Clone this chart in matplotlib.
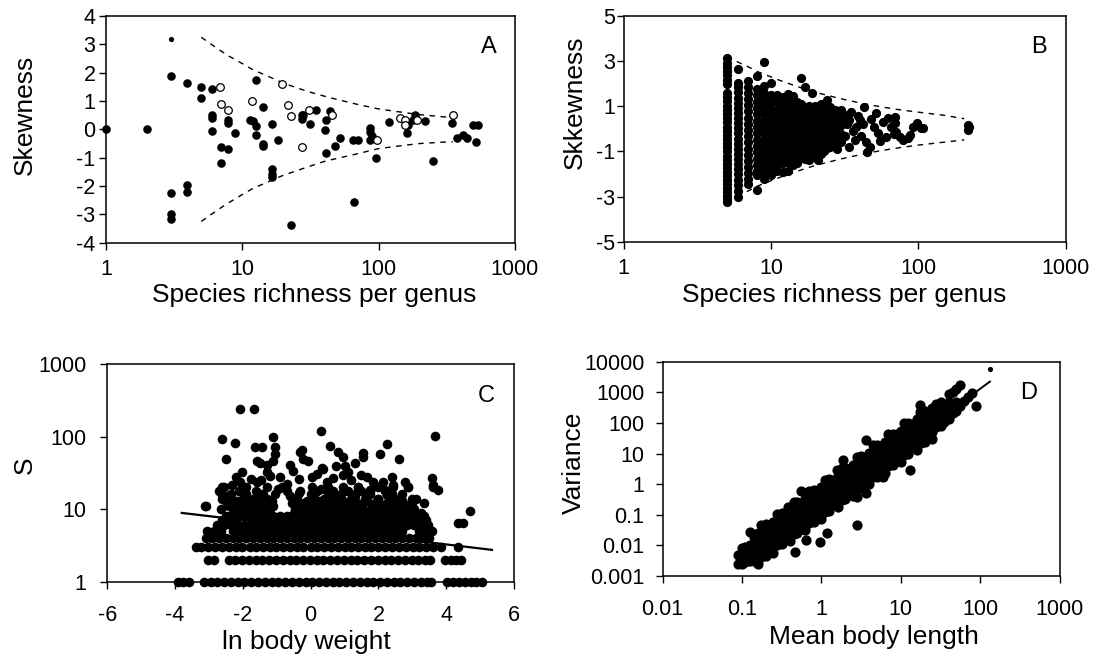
import matplotlib
matplotlib.use('Agg')
import matplotlib.pyplot as plt
from matplotlib.ticker import NullLocator

plt.rcParams['font.family'] = ['Liberation Sans', 'DejaVu Sans']
plt.rcParams['axes.unicode_minus'] = False

# ---- panel A: skewness vs species richness (filled / open / small)
a_fill_x = [1, 2, 3, 3, 3, 3, 3.95, 3.95, 3.95, 5, 5, 5.97, 6, 6, 6, 7, 7,
            7.8, 7.8, 7.8, 8.8, 11.3, 12, 12.6, 12.6, 12.6, 14.1, 14.1, 14.1,
            16.4, 16.4, 16.4, 16.4, 18.4, 22.7, 27.3, 27.3, 28, 31.3, 34.7,
            40.4, 41, 41, 44, 48, 52, 65, 66, 70, 86.5, 86.5, 86.5, 90, 96,
            120, 161, 163, 180, 185, 219, 250, 344, 374, 418, 443, 495, 518, 537]
a_fill_y = [0, 0, 1.87, -2.24, -2.99, -3.17, 1.64, -1.95, -2.22, 1.5, 1.1, 1.42,
            0.51, 0.39, -0.05, -0.62, -1.19, 0.33, 0.21, -0.71, -0.14, 0.33, 0.3,
            1.75, 0.12, -0.2, 0.8, -0.5, -0.6, 0.18, -1.39, -1.57, -1.69, -0.38,
            -3.38, 0.49, 0.38, 0.51, 0.19, 0.69, -0.02, 0.33, -0.85, 0.63, -0.59,
            -0.32, -0.36, -2.55, -0.36, 0.04, -0.08, -0.38, -0.24, -1.01, 0.27,
            -0.14, 0.15, 0.33, 0.51, 0.31, -1.12, 0.24, -0.32, -0.2, -0.32, 0.15,
            -0.44, 0.15]
a_open_x = [6.9, 7, 7.8, 11.8, 19.6, 21.6, 22.7, 27.3, 31, 45.3, 98, 144, 156,
            156, 190, 350]
a_open_y = [1.5, 0.9, 0.69, 1.0, 1.61, 0.86, 0.48, -0.62, 0.69, 0.51, -0.36,
            0.39, 0.33, 0.15, 0.33, 0.51]
a_small_x = [3]
a_small_y = [3.2]
a_env_n = [5, 6, 7, 8, 10, 12, 15, 20, 25, 30, 40, 50, 70, 100, 150, 200, 300, 350]
a_env_hi = [3.25, 2.98, 2.76, 2.58, 2.32, 2.1, 1.9, 1.63, 1.47, 1.34, 1.17, 1.05,
            0.88, 0.72, 0.6, 0.52, 0.44, 0.42]
a_env_lo = [-3.25, -2.98, -2.76, -2.58, -2.3, -2.08, -1.88, -1.62, -1.46, -1.33,
            -1.13, -1.02, -0.86, -0.68, -0.57, -0.5, -0.45, -0.44]

# ---- panel B: skewness per genus, columns by species richness
b_s5 = [3.15, 2.92, 2.72, 2.55, 2.38, 2.18, 1.98, 1.6, 1.42, 1.22, 1.03, 0.85,
        0.66, 0.47, 0.3, 0.1, -0.08, -0.27, -0.45, -0.63, -0.82, -1.0, -1.2,
        -1.38, -1.56, -1.75, -1.9, -2.1, -2.25, -2.45, -2.62, -2.8, -2.98,
        -3.12, -3.25]
b_s6 = [2.65, 2.05, 1.85, 1.62, 1.38, 1.15, 0.92, 0.7, 0.48, 0.25, 0.02, -0.2,
        -0.43, -0.65, -0.88, -1.1, -1.33, -1.55, -1.78, -2.0, -2.25, -2.5,
        -2.75, -3.0]
b_s7 = [2.1, 1.85, 1.6, 1.33, 1.05, 0.78, 0.5, 0.22, -0.05, -0.32, -0.6, -0.88,
        -1.15, -1.42, -1.7, -1.95, -2.2, -2.45]
b_s8 = [2.35, 1.75, 1.48, 1.2, 0.92, 0.64, 0.36, 0.08, -0.2, -0.48, -0.76,
        -1.04, -1.32, -1.6, -1.88, -2.05, -2.7]
b_s9 = [2.95, 1.9, 1.6, 1.3, 1.0, 0.7, 0.4, 0.1, -0.2, -0.5, -0.8, -1.1, -1.4,
        -1.7, -2.0, -2.2]
b_s10 = [2.05, 1.5, 1.2, 0.9, 0.6, 0.3, 0.0, -0.3, -0.6, -0.9, -1.2, -1.5,
         -1.8, -2.05]
b_s11 = [1.5, 1.2, 0.85, 0.55, 0.25, -0.1, -0.4, -0.7, -1.0, -1.3, -1.6, -1.85]
b_s12 = [1.4, 1.05, 0.75, 0.45, 0.1, -0.2, -0.55, -0.85, -1.15, -1.5, -1.9]
b_s13 = [1.55, 1.2, 0.85, 0.5, 0.2, -0.15, -0.45, -0.8, -1.1, -1.45, -1.85]
b_s14 = [1.45, 1.05, 0.7, 0.35, 0.0, -0.35, -0.7, -1.05, -1.35, -1.6]
b_s15 = [1.2, 0.85, 0.5, 0.15, -0.2, -0.55, -0.9, -1.2, -1.5]
b_s16 = [2.25, 1.1, 0.75, 0.4, 0.05, -0.3, -0.65, -1.0, -1.3]
b_s17 = [1.85, 0.95, 0.6, 0.25, -0.1, -0.45, -0.8, -1.1, -1.35]
b_s18 = [1.0, 0.65, 0.3, -0.05, -0.4, -0.75, -1.1, -1.4]
b_s19 = [1.6, 0.85, 0.5, 0.15, -0.2, -0.55, -0.9, -1.2]
b_s20 = [1.0, 0.6, 0.25, -0.1, -0.45, -0.8, -1.1, -1.25]
b_s21 = [0.9, 0.5, 0.15, -0.2, -0.55, -0.9, -1.4]
b_s22 = [1.1, 0.7, 0.3, -0.05, -0.4, -0.75, -1.1]
b_s23 = [0.85, 0.45, 0.1, -0.3, -0.65, -1.0]
b_s24 = [1.28, 0.9, 0.55, 0.2, -0.15, -0.5, -0.85]
b_s25 = [0.95, 0.6, 0.25, -0.1, -0.45, -0.79]
b_s26 = [0.7, 0.35, 0.0, -0.35, -0.7]
b_s27 = [0.85, 0.5, 0.15, -0.2, -0.55]
b_s28 = [0.65, 0.3, -0.05, -0.42, -0.9]
b_s29 = [0.8, 0.45, 0.1, -0.42]
b_s30 = [0.84, 0.5, 0.15, -0.25, -0.6]
b_cols = [5, 6, 7, 8, 9, 10, 11, 12, 13, 14, 15, 16, 17, 18, 19, 20, 21, 22,
          23, 24, 25, 26, 27, 28, 29, 30]
b_col_vals = [b_s5, b_s6, b_s7, b_s8, b_s9, b_s10, b_s11, b_s12, b_s13, b_s14,
              b_s15, b_s16, b_s17, b_s18, b_s19, b_s20, b_s21, b_s22, b_s23,
              b_s24, b_s25, b_s26, b_s27, b_s28, b_s29, b_s30]
b_big_x = [32, 32, 33, 34, 34, 35, 36, 37, 38, 39, 40, 41, 42, 43, 44, 45, 47,
           48, 50, 52, 53, 55, 58, 60, 62, 65, 68, 70, 70, 71, 75, 79, 85, 88,
           92, 98, 105, 108, 218, 218, 220]
b_big_y = [0.6, -0.3, 0.2, 0.39, -0.79, 0.75, -0.1, -0.5, 0.1, 0.55, 0.39, -0.3,
           0.2, 0.98, -0.6, -1.01, -0.79, 0.45, 0.1, 0.69, -0.2, -0.55, 0.32,
           -0.35, 0.5, 0.1, -0.25, 0.54, 0.25, -0.13, -0.35, -0.49, -0.4, -0.27,
           0.1, 0.25, 0.05, 0.02, 0.17, -0.05, 0.08]
b_env_n = [5, 6, 7, 8, 10, 12, 15, 20, 25, 30, 40, 50, 70, 100, 150, 205]
b_env_hi = [3.2, 2.95, 2.75, 2.55, 2.3, 2.1, 1.88, 1.62, 1.46, 1.33, 1.15, 1.03,
            0.87, 0.74, 0.6, 0.45]
b_env_lo = [-3.2, -2.95, -2.75, -2.55, -2.3, -2.1, -1.88, -1.62, -1.46, -1.33,
            -1.15, -1.02, -0.86, -0.72, -0.59, -0.49]

# ---- panel C: species richness S vs ln body weight, rows by S
c_s1 = [-3.9, -3.75, -3.6, -3.15, -2.95, -2.75, -2.55, -2.35, -2.15, -1.95,
        -1.75, -1.55, -1.35, -1.15, -0.95, -0.75, -0.55, -0.35, -0.15, 0.05,
        0.25, 0.45, 0.65, 0.85, 1.05, 1.25, 1.45, 1.65, 1.85, 2.05, 2.25, 2.45,
        2.65, 2.85, 3.05, 3.25, 3.42, 3.56, 4.03, 4.2, 4.38, 4.55, 4.72, 4.88,
        5.05]
c_s2 = [-3.03, -2.86, -2.41, -2.22, -2.02, -1.82, -1.62, -1.42, -1.22, -1.02,
        -0.82, -0.62, -0.42, -0.22, -0.02, 0.18, 0.38, 0.58, 0.78, 0.98, 1.18,
        1.38, 1.58, 1.78, 1.98, 2.18, 2.38, 2.58, 2.78, 2.98, 3.18, 3.36, 3.51,
        3.96, 4.13, 4.3, 4.45]
c_s3 = [-3.39, -3.22, -3.02, -2.83, -2.61, -2.42, -2.2, -2.01, -1.8, -1.62,
        -1.41, -1.2, -1.02, -0.8, -0.61, -0.4, -0.21, 0.0, 0.19, 0.4, 0.6, 0.81,
        1.0, 1.2, 1.41, 1.6, 1.79, 2.0, 2.2, 2.41, 2.6, 2.8, 3.01, 3.2, 3.4, 3.6,
        3.85, 4.35]
c_s4 = [-3.1, -2.9, -2.7, -2.5, -2.3, -2.1, -1.9, -1.7, -1.5, -1.3, -1.1, -0.9,
        -0.7, -0.5, -0.3, -0.1, 0.1, 0.3, 0.5, 0.7, 0.9, 1.1, 1.3, 1.5, 1.7, 1.9,
        2.1, 2.3, 2.5, 2.7, 2.9, 3.1, 3.3, 3.5]
c_s5 = [-3.05, -2.85, -2.65, -2.3, -2.1, -1.9, -1.7, -1.5, -1.3, -1.1, -0.9,
        -0.7, -0.5, -0.3, -0.1, 0.1, 0.3, 0.5, 0.7, 0.9, 1.1, 1.3, 1.5, 1.7, 1.9,
        2.1, 2.3, 2.5, 2.7, 3.2, 3.4, 3.57]
c_s6 = [-2.75, -2.55, -2.35, -2.15, -1.95, -1.75, -1.55, -1.35, -1.15, -0.95,
        -0.75, -0.55, -0.35, -0.15, 0.05, 0.25, 0.45, 0.65, 0.85, 1.05, 1.25,
        1.45, 1.65, 1.85, 2.05, 2.25, 2.45, 2.65, 2.85, 3.05, 3.25, 3.45]
c_s7 = [-2.62, -2.4, -2.2, -1.62, -1.42, -1.22, -1.02, -0.82, -0.62, -0.42,
        -0.22, -0.02, 0.18, 0.38, 0.58, 0.78, 0.98, 1.18, 1.38, 1.58, 1.78, 1.98,
        2.18, 2.38, 2.58, 2.78, 2.98, 3.18, 3.4]
c_s8 = [-2.5, -2.3, -2.1, -1.9, -1.7, -1.5, -1.3, -1.1, -0.9, -0.7, -0.3, -0.1,
        0.1, 0.3, 0.5, 0.7, 0.9, 1.1, 1.3, 1.5, 1.7, 1.9, 2.1, 2.3, 2.5, 2.7, 2.9,
        3.1, 3.35]
c_s9 = [-2.3, -2.1, -1.85, -1.6, -1.35, -0.5, -0.25, 0.0, 0.25, 0.5, 0.75, 1.0,
        1.25, 1.5, 1.75, 2.0, 2.25, 2.5, 2.75, 3.0, 3.25]
c_s10 = [-2.65, -2.2, -1.95, -1.7, -1.45, -1.2, -0.45, -0.2, 0.05, 0.3, 0.55,
         0.8, 1.05, 1.3, 1.55, 1.8, 2.05, 2.3, 2.55, 2.8, 3.05]
c_s11 = [-3.1, -2.4, -2.1, -1.8, -1.5, -1.1, -0.3, 0.0, 0.3, 0.6, 0.9, 1.2, 1.5,
         1.8, 2.1, 2.4, 2.7, 3.0]
c_s12 = [-2.3, -1.95, -1.6, -1.3, -0.55, -0.2, 0.15, 0.5, 0.85, 1.2, 1.55, 1.9,
         2.25, 2.6, 2.95]
c_s13 = [-2.5, -2.15, -1.8, -1.45, -0.1, 0.25, 0.6, 0.95, 1.3, 1.65, 2.0, 2.35,
         2.7]
c_s14 = [-2.6, -2.0, -1.65, -1.3, -0.4, 0.0, 0.4, 0.8, 1.2, 1.6, 2.0, 2.5, 3.0]
c_s16 = [-2.35, -1.9, -1.45, -1.05, 0.1, 0.5, 0.9, 1.3, 1.75, 2.25, 2.7]
c_s18 = [-2.7, -2.1, -1.6, -0.7, -0.3, 0.2, 0.65, 1.1, 1.5, 1.75, 2.2]
c_s20 = [-2.55, -1.9, -1.3, -0.85, 0.05, 0.5, 0.95, 1.4, 2.0, 2.44, 2.88, 3.6]
c_rows = [1, 2, 3, 4, 5, 6, 7, 8, 9, 10, 11, 12, 13, 14, 16, 18, 20]
c_row_vals = [c_s1, c_s2, c_s3, c_s4, c_s5, c_s6, c_s7, c_s8, c_s9, c_s10,
              c_s11, c_s12, c_s13, c_s14, c_s16, c_s18, c_s20]
c_hi_x = [-2.08, -1.66, 0.3, 3.67, -1.1, -2.6, -2.23, 2.25, -1.64, -1.44, -1.05,
          0.57, -0.25, -0.31, 0.82, 1.55, 2.05, -1.05, -2.5, 2.6, 0.97, 1.55,
          -0.21, -0.07, -1.59, -1.1, -1.49, -1.29, 0.33, 0.38, 1.0, 1.1, -2.03,
          -0.51, 0.18, 1.5, -1.2, -0.9, 2.39, 3.57, 0.67, 1.85, -2.08, -1.57,
          -1.45, 0.48, 2.78, 1.2, -2.33, 2.44, 3.62, -2.62, 2.88, 1.4, 1.75, 3.77,
          2.2, -2.62, 2.25, -3.11, 4.7, 4.36, 4.5,
          -2.45, -2.2, -1.95, -1.7, -1.4, -1.15, -0.95, -0.6, -0.35, 0.0, 0.3,
          0.7, 1.0, 1.3, 1.65, 2.0, 2.4, 2.7, 3.1, 3.35, -2.2, -1.75, -0.7,
          -0.35, 0.05, 0.95, 1.65, 2.15, -1.3, 0.75, 1.3, -0.6]
c_hi_y = [240, 240, 122, 104, 100, 92, 83, 80, 72, 72, 73, 75, 66, 62, 62, 59,
          58, 58, 50, 50, 53, 52, 50, 47, 47, 47, 43, 41, 37, 36, 40, 33, 33,
          34, 31, 29.6, 29, 28, 28, 26.7, 27, 24, 24, 24, 25, 24, 24, 25, 21.6,
          21.6, 21.6, 20.5, 20.5, 20, 18.5, 18.4, 18.5, 15.7, 15.5, 11, 9.5,
          6.4, 6.4,
          15, 13, 17, 14, 16, 13, 19, 15, 17, 16, 19, 16, 18, 15, 17, 14, 16,
          13, 14, 12, 28, 26, 22, 26, 28, 30, 28, 24, 33, 40, 44, 41]
c_line_x = [-3.8, 5.35]
c_line_y = [8.9, 2.75]

# ---- panel D: variance vs mean body length
d_x = [0.09, 0.09,
       0.1, 0.1, 0.1,
       0.11, 0.11, 0.11,
       0.125, 0.125, 0.125, 0.125,
       0.14, 0.14, 0.14, 0.14,
       0.16, 0.16, 0.16, 0.16, 0.16,
       0.175, 0.175, 0.175, 0.175, 0.175,
       0.2, 0.2, 0.2, 0.2, 0.2,
       0.22, 0.22, 0.22, 0.22,
       0.25, 0.25, 0.25, 0.25, 0.25,
       0.28, 0.28, 0.28, 0.28, 0.28,
       0.32, 0.32, 0.32, 0.32, 0.32,
       0.35, 0.35, 0.35, 0.35,
       0.4, 0.4, 0.4, 0.4, 0.4,
       0.45, 0.45, 0.45, 0.45, 0.45,
       0.5, 0.5, 0.5, 0.5, 0.5,
       0.56, 0.56, 0.56, 0.56,
       0.63, 0.63, 0.63, 0.63, 0.63,
       0.7, 0.7, 0.7, 0.7, 0.7,
       0.8, 0.8, 0.8, 0.8, 0.8,
       0.9, 0.9, 0.9, 0.9,
       1.0, 1.0, 1.0, 1.0, 1.0,
       1.1, 1.1, 1.1, 1.1, 1.1,
       1.25, 1.25, 1.25, 1.25, 1.25,
       1.4, 1.4, 1.4, 1.4,
       1.6, 1.6, 1.6, 1.6, 1.6,
       1.8, 1.8, 1.8, 1.8, 1.8,
       2.0, 2.0, 2.0, 2.0, 2.0,
       2.2, 2.2, 2.2, 2.2,
       2.5, 2.5, 2.5, 2.5, 2.5,
       2.8, 2.8, 2.8, 2.8, 2.8,
       3.2, 3.2, 3.2, 3.2, 3.2,
       3.5, 3.5, 3.5, 3.5,
       4.0, 4.0, 4.0, 4.0, 4.0,
       4.5, 4.5, 4.5, 4.5, 4.5,
       5.0, 5.0, 5.0, 5.0, 5.0,
       5.6, 5.6, 5.6, 5.6,
       6.3, 6.3, 6.3, 6.3, 6.3,
       7.0, 7.0, 7.0, 7.0, 7.0,
       8.0, 8.0, 8.0, 8.0, 8.0,
       9.0, 9.0, 9.0, 9.0,
       10, 10, 10, 10, 10,
       11, 11, 11, 11, 11,
       12.5, 12.5, 12.5, 12.5, 12.5,
       14, 14, 14, 14,
       16, 16, 16, 16, 16,
       18, 18, 18, 18, 18,
       20, 20, 20, 20, 20,
       22, 22, 22, 22,
       25, 25, 25, 25, 25,
       28, 28, 28, 28,
       32, 32, 32, 32,
       35, 35, 35,
       40, 40, 40, 40,
       45, 45, 45,
       50, 50, 50,
       56, 56, 63, 70, 80, 90,
       17.5, 17.5, 2.8, 13, 0.47, 0.65, 0.96, 1.17, 0.55, 1.56, 1.9, 3.7,
       0.3, 0.38, 3.7, 2.8, 6.0]
d_y = [0.0024, 0.0049,
       0.0025, 0.0047, 0.0085,
       0.0028, 0.0051, 0.0091,
       0.0032, 0.0058, 0.0103, 0.028,
       0.0032, 0.0059, 0.0107, 0.019,
       0.0025, 0.0045, 0.0081, 0.0141, 0.026,
       0.0042, 0.0077, 0.0143, 0.025, 0.045,
       0.0046, 0.0084, 0.0153, 0.0275, 0.049,
       0.0073, 0.0137, 0.0246, 0.0437,
       0.0058, 0.0104, 0.0185, 0.0323, 0.06,
       0.01, 0.0185, 0.0342, 0.06, 0.108,
       0.011, 0.02, 0.0365, 0.066, 0.117,
       0.0172, 0.0323, 0.058, 0.103,
       0.0138, 0.0248, 0.0441, 0.077, 0.143,
       0.024, 0.0445, 0.082, 0.144, 0.26,
       0.025, 0.046, 0.083, 0.15, 0.27,
       0.041, 0.077, 0.139, 0.246,
       0.032, 0.057, 0.102, 0.179, 0.33,
       0.054, 0.1, 0.186, 0.326, 0.59,
       0.06, 0.109, 0.199, 0.36, 0.64,
       0.099, 0.185, 0.333, 0.59,
       0.075, 0.135, 0.24, 0.42, 0.78,
       0.125, 0.233, 0.43, 0.75, 1.36,
       0.136, 0.25, 0.453, 0.82, 1.45,
       0.224, 0.42, 0.755, 1.34,
       0.179, 0.322, 0.573, 1.0, 1.86,
       0.31, 0.58, 1.07, 1.87, 3.4,
       0.32, 0.59, 1.08, 1.94, 3.5,
       0.52, 0.97, 1.74, 3.1,
       0.41, 0.73, 1.3, 2.3, 4.2,
       0.71, 1.31, 2.4, 4.2, 7.7,
       0.77, 1.42, 2.58, 4.6, 8.3,
       1.22, 2.3, 4.1, 7.3,
       0.98, 1.76, 3.1, 5.5, 10.1,
       1.7, 3.15, 5.8, 10.2, 18.4,
       1.77, 3.2, 5.9, 10.6, 18.8,
       2.9, 5.4, 9.8, 17.4,
       2.26, 4.1, 7.2, 12.7, 23.5,
       3.85, 7.2, 13.2, 23.1, 42,
       4.2, 7.8, 14.1, 25.4, 45,
       7.0, 13.1, 23.6, 42,
       5.3, 9.5, 17, 29.7, 55,
       8.9, 16.5, 30.5, 53, 97,
       9.6, 17.7, 32, 58, 103,
       15.8, 29.7, 53, 95,
       12.7, 22.8, 40.5, 71, 132,
       22, 41, 76, 132, 240,
       23, 42, 77, 138, 245,
       36.5, 68, 123, 219,
       29, 52, 93, 162, 300,
       72, 129, 229, 400,
       82, 146, 275, 476,
       108, 194, 367,
       138, 248, 470, 880,
       206, 377, 1030,
       250, 500, 1330,
       360, 1700, 512, 700, 945, 370,
       390, 235, 0.045, 2.8, 0.0063, 0.015, 0.013, 0.025, 0.6, 2.9, 6.1, 27,
       0.087, 0.18, 0.5, 0.39, 1.76]
d_small_x = [133]
d_small_y = [5700]
d_line_x = [0.09, 133]
d_line_y = [0.002, 2240]

# tick labels
a_xt = [1, 10, 100, 1000]
a_yt = [-4, -3, -2, -1, 0, 1, 2, 3, 4]
b_yt = [-5, -3, -1, 1, 3, 5]
c_xt = [-6, -4, -2, 0, 2, 4, 6]
c_yt = [1, 10, 100, 1000]
d_xt = [0.01, 0.1, 1, 10, 100, 1000]
d_yt = [0.001, 0.01, 0.1, 1, 10, 100, 1000, 10000]


def fmt(v):
    return ('%g' % v)


def style(ax, xpad, ypad):
    for s in ax.spines.values():
        s.set_linewidth(1.1)
        s.set_color('black')
    ax.tick_params(direction='out', length=5, width=1.0, labelsize=15.5,
                   colors='black', top=False, right=False)
    ax.tick_params(axis='x', pad=xpad)
    ax.tick_params(axis='y', pad=ypad)


fig = plt.figure(figsize=(10.98, 6.6), dpi=100)
W, H = 1098.0, 660.0
axA = fig.add_axes([106 / W, 1 - 242.7 / H, 409 / W, 226.7 / H])
axB = fig.add_axes([623.8 / W, 1 - 241.7 / H, 441.7 / W, 225.7 / H])
axC = fig.add_axes([107.2 / W, 1 - 581.7 / H, 406.8 / W, 217.4 / H])
axD = fig.add_axes([662.5 / W, 1 - 576 / H, 397 / W, 214.3 / H])

# A
axA.plot(a_env_n, a_env_hi, color='black', lw=1.0, ls=(0, (4, 4)))
axA.plot(a_env_n, a_env_lo, color='black', lw=1.0, ls=(0, (4, 4)))
axA.scatter(a_fill_x, a_fill_y, s=38, c='black', lw=0, clip_on=False, zorder=3)
axA.scatter(a_open_x, a_open_y, s=30, facecolors='white', edgecolors='black',
            linewidths=0.9, clip_on=False, zorder=4)
axA.scatter(a_small_x, a_small_y, s=14, c='black', lw=0, zorder=3)
axA.set_xscale('log')
axA.set_xlim(1, 1000)
axA.set_ylim(-4, 4)
axA.set_xticks(a_xt)
axA.set_xticklabels([fmt(v) for v in a_xt])
axA.xaxis.set_minor_locator(NullLocator())
axA.set_yticks(a_yt)
axA.set_yticklabels([fmt(v) for v in a_yt])
style(axA, 7, 2.5)
axA.set_ylabel('Skewness', fontsize=19)
axA.yaxis.label.set_va('center')
axA.yaxis.set_label_coords(-0.199, 0.563)
axA.set_xlabel('Species richness per genus', fontsize=19)
axA.xaxis.label.set_va('center')
axA.xaxis.set_label_coords(0.51, -0.23)
axA.text(0.935, 0.865, 'A', transform=axA.transAxes, fontsize=17,
         ha='center', va='center')

# B
bx, by = [], []
for n, vals in zip(b_cols, b_col_vals):
    bx += [n] * len(vals)
    by += vals
axB.plot(b_env_n, b_env_hi, color='black', lw=1.0, ls=(0, (4, 4)))
axB.plot(b_env_n, b_env_lo, color='black', lw=1.0, ls=(0, (4, 4)))
axB.scatter(bx, by, s=44, c='black', lw=0, zorder=3)
axB.scatter(b_big_x, b_big_y, s=44, c='black', lw=0, zorder=3)
axB.set_xscale('log')
axB.set_xlim(1, 1000)
axB.set_ylim(-5, 5)
axB.set_xticks(a_xt)
axB.set_xticklabels([fmt(v) for v in a_xt])
axB.xaxis.set_minor_locator(NullLocator())
axB.set_yticks(b_yt)
axB.set_yticklabels([fmt(v) for v in b_yt])
style(axB, 7, 1.5)
axB.set_ylabel('Skkewness', fontsize=19)
axB.yaxis.label.set_va('center')
axB.yaxis.set_label_coords(-0.11, 0.62)
axB.set_xlabel('Species richness per genus', fontsize=19)
axB.xaxis.label.set_va('center')
axB.xaxis.set_label_coords(0.5, -0.235)
axB.text(0.94, 0.864, 'B', transform=axB.transAxes, fontsize=17,
         ha='center', va='center')

# C
cx, cy = [], []
for s_val, vals in zip(c_rows, c_row_vals):
    cx += vals
    cy += [s_val] * len(vals)
axC.scatter(cx, cy, s=48, c='black', lw=0, clip_on=False, zorder=3)
axC.scatter(c_hi_x, c_hi_y, s=48, c='black', lw=0, zorder=3)
axC.plot(c_line_x, c_line_y, color='black', lw=1.6, zorder=2)
axC.set_yscale('log')
axC.set_xlim(-6, 6)
axC.set_ylim(1, 1000)
axC.set_xticks(c_xt)
axC.set_xticklabels([fmt(v) for v in c_xt])
axC.set_yticks(c_yt)
axC.set_yticklabels([fmt(v) for v in c_yt])
axC.yaxis.set_minor_locator(NullLocator())
style(axC, 12, 10)
axC.set_ylabel('S', fontsize=19)
axC.yaxis.label.set_va('center')
axC.yaxis.set_label_coords(-0.203, 0.537)
axC.set_xlabel('ln body weight', fontsize=19)
axC.xaxis.label.set_va('center')
axC.xaxis.set_label_coords(0.49, -0.277)
axC.text(0.933, 0.854, 'C', transform=axC.transAxes, fontsize=17,
         ha='center', va='center')

# D
axD.scatter(d_x, d_y, s=54, c='black', lw=0, zorder=3)
axD.scatter(d_small_x, d_small_y, s=14, c='black', lw=0, zorder=3)
axD.plot(d_line_x, d_line_y, color='black', lw=1.4, zorder=2)
axD.set_xscale('log')
axD.set_yscale('log')
axD.set_xlim(0.01, 1000)
axD.set_ylim(0.001, 10000)
axD.set_xticks(d_xt)
axD.set_xticklabels([fmt(v) for v in d_xt])
axD.set_yticks(d_yt)
axD.set_yticklabels([fmt(v) for v in d_yt])
axD.xaxis.set_minor_locator(NullLocator())
axD.yaxis.set_minor_locator(NullLocator())
style(axD, 11.5, 8)
axD.set_ylabel('Variance', fontsize=19)
axD.yaxis.label.set_va('center')
axD.yaxis.set_label_coords(-0.224, 0.53)
axD.set_xlabel('Mean body length', fontsize=19)
axD.xaxis.label.set_va('center')
axD.xaxis.set_label_coords(0.533, -0.285)
axD.text(0.922, 0.853, 'D', transform=axD.transAxes, fontsize=17,
         ha='center', va='center')

fig.savefig('out.png', dpi=100)
